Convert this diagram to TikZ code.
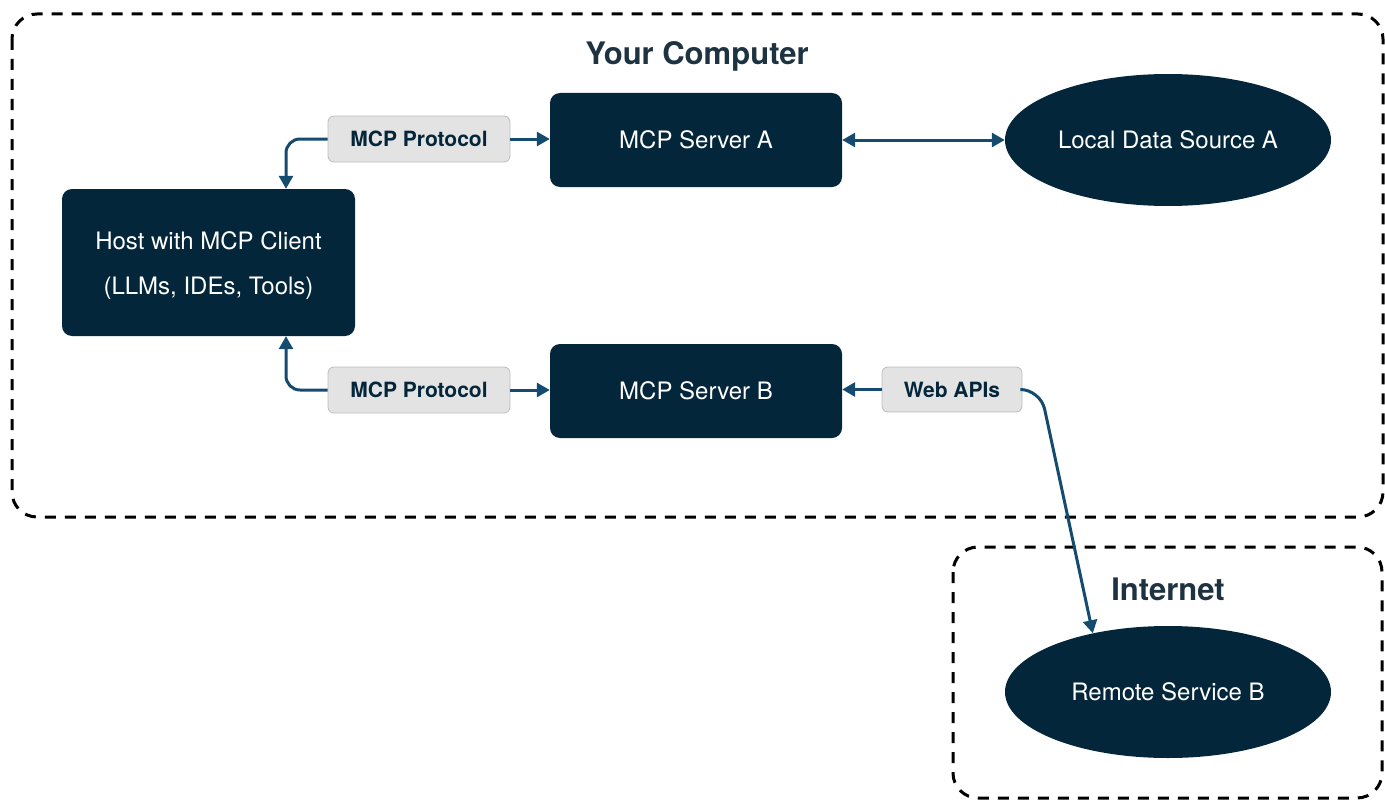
\documentclass[tikz,border=0pt]{standalone}
\usepackage{fontspec}
\setmainfont{TeX Gyre Heros}
\usetikzlibrary{shapes.geometric,arrows.meta}
\definecolor{nodefill}{HTML}{03263A}
\definecolor{arrowc}{HTML}{144B6E}
\definecolor{titlec}{HTML}{1E3342}
\definecolor{labelfill}{HTML}{E3E3E3}
\definecolor{labelline}{HTML}{B9BEC3}
\tikzset{
  zone/.style={draw=black, line width=3pt, dash pattern=on 11pt off 9pt, rounded corners=25pt},
  zonetitle/.style={text=titlec, font=\fontsize{31}{35}\selectfont\bfseries},
  darkbox/.style={fill=nodefill, text=white, rounded corners=10pt, inner sep=0pt, align=center, font=\fontsize{24}{45}\selectfont},
  darkell/.style={ellipse, fill=nodefill, text=white, inner sep=0pt, font=\fontsize{24}{28}\selectfont},
  lbl/.style={fill=labelfill, draw=labelline, line width=0.8pt, rounded corners=6pt, text=nodefill, inner sep=0pt, font=\fontsize{21}{25}\selectfont\bfseries},
  arr/.style={draw=arrowc, line width=3pt, -{Triangle[length=13pt,width=14pt]}},
  darr/.style={draw=arrowc, line width=3pt, {Triangle[length=13pt,width=14pt]}-{Triangle[length=13pt,width=14pt]}}
}
\begin{document}
\begin{tikzpicture}[x=1pt,y=-1pt]
\useasboundingbox (0,0) rectangle (1385,800);
% zones
\draw[zone] (12,14) rectangle (1383,517);
\draw[zone] (953,547) rectangle (1382,798);
\node[zonetitle] (tyc) at (697,56) {Your Computer};
\node[zonetitle] (tint) at (1168,589) {Internet};
% nodes
\node[darkbox, minimum width=293pt, minimum height=147pt] (host) at (208.5,262.5) {};
\node[text=white, font=\fontsize{24}{45}\selectfont, align=center] (hosttext) at (208.5,265.5) {Host with MCP Client\\(LLMs, IDEs, Tools)};
\node[darkbox, minimum width=292pt, minimum height=94pt] (sa) at (696,140) {MCP Server A};
\node[darkbox, minimum width=292pt, minimum height=94pt] (sb) at (696,391) {MCP Server B};
\node[darkell, minimum width=326pt, minimum height=132pt] (lds) at (1168,140) {Local Data Source A};
\node[darkell, minimum width=326pt, minimum height=132pt] (rs) at (1168,692) {Remote Service B};
% labels
\node[lbl, minimum width=182pt, minimum height=46pt] (p1) at (419,139) {MCP Protocol};
\node[lbl, minimum width=182pt, minimum height=46pt] (p2) at (419,390) {MCP Protocol};
\node[lbl, minimum width=140pt, minimum height=45pt] (web) at (952,389.5) {Web APIs};
% connectors
\draw[arr, rounded corners=14pt] (p1.west) -| ([xshift=77.5pt]host.north);
\draw[arr] (p1.east) -- (sa.west |- p1.east);
\draw[arr, rounded corners=14pt] (p2.west) -| ([xshift=77.5pt]host.south);
\draw[arr] (p2.east) -- (sb.west |- p2.east);
\draw[darr] (sa.east) -- (lds.west);
\draw[arr] (web.west) -- (sb.east |- web.west);
\draw[arr, rounded corners=20pt] (web.east) -- ([xshift=18pt]web.east) -- (rs.142);
\end{tikzpicture}
\end{document}
